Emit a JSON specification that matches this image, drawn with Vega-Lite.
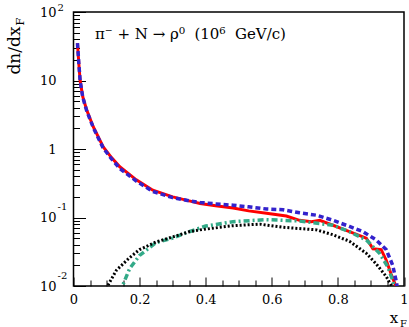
{
  "$schema": "https://vega.github.io/schema/vega-lite/v6.json",
  "width": 330.5,
  "height": 274,
  "autosize": {"type": "none"},
  "padding": {"left": 73.5, "top": 12, "right": 5, "bottom": 41},
  "background": "white",
  "config": {
    "view": {"stroke": "black", "strokeWidth": 1.5},
    "font": "DejaVu Serif",
    "axis": {"grid": false, "domain": false, "tickColor": "black", "tickWidth": 1, "labelColor": "black", "titleColor": "black", "labelFont": "DejaVu Serif", "titleFont": "DejaVu Serif", "titleFontWeight": "normal"}
  },
  "datasets": {
    "curves": [
      {"s": "red", "x": 0.012, "y": 35}, {"s": "red", "x": 0.016, "y": 18}, {"s": "red", "x": 0.02, "y": 10}, {"s": "red", "x": 0.028, "y": 5.8}, {"s": "red", "x": 0.04, "y": 3.7}, {"s": "red", "x": 0.06, "y": 2.1}, {"s": "red", "x": 0.09, "y": 1.07}, {"s": "red", "x": 0.115, "y": 0.75}, {"s": "red", "x": 0.14, "y": 0.55}, {"s": "red", "x": 0.19, "y": 0.355}, {"s": "red", "x": 0.24, "y": 0.25}, {"s": "red", "x": 0.3, "y": 0.2}, {"s": "red", "x": 0.35, "y": 0.175}, {"s": "red", "x": 0.383, "y": 0.16}, {"s": "red", "x": 0.43, "y": 0.148}, {"s": "red", "x": 0.483, "y": 0.138}, {"s": "red", "x": 0.53, "y": 0.125}, {"s": "red", "x": 0.584, "y": 0.115}, {"s": "red", "x": 0.644, "y": 0.105}, {"s": "red", "x": 0.684, "y": 0.091}, {"s": "red", "x": 0.72, "y": 0.087}, {"s": "red", "x": 0.745, "y": 0.091}, {"s": "red", "x": 0.785, "y": 0.077}, {"s": "red", "x": 0.835, "y": 0.062}, {"s": "red", "x": 0.886, "y": 0.05}, {"s": "red", "x": 0.906, "y": 0.035}, {"s": "red", "x": 0.931, "y": 0.034}, {"s": "red", "x": 0.946, "y": 0.024}, {"s": "red", "x": 0.961, "y": 0.015}, {"s": "red", "x": 0.976, "y": 0.0098}, {"s": "red", "x": 0.985, "y": 0.006},
      {"s": "blue", "x": 0.012, "y": 35}, {"s": "blue", "x": 0.016, "y": 18}, {"s": "blue", "x": 0.02, "y": 10}, {"s": "blue", "x": 0.028, "y": 5.7}, {"s": "blue", "x": 0.04, "y": 3.6}, {"s": "blue", "x": 0.06, "y": 2.05}, {"s": "blue", "x": 0.09, "y": 1.03}, {"s": "blue", "x": 0.115, "y": 0.72}, {"s": "blue", "x": 0.14, "y": 0.52}, {"s": "blue", "x": 0.19, "y": 0.34}, {"s": "blue", "x": 0.24, "y": 0.24}, {"s": "blue", "x": 0.3, "y": 0.195}, {"s": "blue", "x": 0.35, "y": 0.175}, {"s": "blue", "x": 0.383, "y": 0.166}, {"s": "blue", "x": 0.43, "y": 0.158}, {"s": "blue", "x": 0.483, "y": 0.151}, {"s": "blue", "x": 0.53, "y": 0.143}, {"s": "blue", "x": 0.584, "y": 0.133}, {"s": "blue", "x": 0.634, "y": 0.13}, {"s": "blue", "x": 0.684, "y": 0.117}, {"s": "blue", "x": 0.735, "y": 0.108}, {"s": "blue", "x": 0.785, "y": 0.091}, {"s": "blue", "x": 0.835, "y": 0.074}, {"s": "blue", "x": 0.876, "y": 0.062}, {"s": "blue", "x": 0.916, "y": 0.047}, {"s": "blue", "x": 0.946, "y": 0.034}, {"s": "blue", "x": 0.966, "y": 0.02}, {"s": "blue", "x": 0.976, "y": 0.012}, {"s": "blue", "x": 0.985, "y": 0.007},
      {"s": "green", "x": 0.14, "y": 0.008}, {"s": "green", "x": 0.148, "y": 0.01}, {"s": "green", "x": 0.17, "y": 0.018}, {"s": "green", "x": 0.2, "y": 0.028}, {"s": "green", "x": 0.25, "y": 0.043}, {"s": "green", "x": 0.3, "y": 0.05}, {"s": "green", "x": 0.35, "y": 0.062}, {"s": "green", "x": 0.4, "y": 0.075}, {"s": "green", "x": 0.483, "y": 0.087}, {"s": "green", "x": 0.584, "y": 0.093}, {"s": "green", "x": 0.684, "y": 0.089}, {"s": "green", "x": 0.785, "y": 0.077}, {"s": "green", "x": 0.835, "y": 0.062}, {"s": "green", "x": 0.886, "y": 0.047}, {"s": "green", "x": 0.926, "y": 0.03}, {"s": "green", "x": 0.951, "y": 0.019}, {"s": "green", "x": 0.966, "y": 0.012}, {"s": "green", "x": 0.98, "y": 0.007},
      {"s": "black", "x": 0.095, "y": 0.008}, {"s": "black", "x": 0.103, "y": 0.01}, {"s": "black", "x": 0.13, "y": 0.017}, {"s": "black", "x": 0.17, "y": 0.026}, {"s": "black", "x": 0.2, "y": 0.034}, {"s": "black", "x": 0.25, "y": 0.044}, {"s": "black", "x": 0.3, "y": 0.052}, {"s": "black", "x": 0.35, "y": 0.062}, {"s": "black", "x": 0.383, "y": 0.066}, {"s": "black", "x": 0.483, "y": 0.076}, {"s": "black", "x": 0.564, "y": 0.08}, {"s": "black", "x": 0.634, "y": 0.072}, {"s": "black", "x": 0.735, "y": 0.066}, {"s": "black", "x": 0.785, "y": 0.056}, {"s": "black", "x": 0.835, "y": 0.045}, {"s": "black", "x": 0.886, "y": 0.03}, {"s": "black", "x": 0.916, "y": 0.021}, {"s": "black", "x": 0.946, "y": 0.0138}, {"s": "black", "x": 0.961, "y": 0.0103}, {"s": "black", "x": 0.97, "y": 0.008}
    ],
    "annot": [{"x": 0.065, "y": 40.4, "label": "π⁻ + N → ρ⁰\u00a0\u00a0(10⁶\u00a0\u00a0GeV/c)"}],
    "expTop": [{"x": 0, "y": 100, "e": "2"}],
    "expLow": [{"x": 0, "y": 0.1, "e": "-1"}, {"x": 0, "y": 0.01, "e": "-2"}]
  },
  "layer": [
    {
      "data": {"name": "curves"},
      "transform": [{"filter": "datum.s == 'red'"}],
      "mark": {"type": "line", "color": "#ff0000", "strokeWidth": 3, "clip": true},
      "encoding": {
        "x": {"field": "x", "type": "quantitative", "scale": {"domain": [0, 1], "nice": false, "zero": false},
          "axis": {"orient": "bottom", "values": [0, 0.2, 0.4, 0.6, 0.8, 1], "format": "~g", "tickSize": -9, "labelFontSize": 13, "labelPadding": 16, "labelFlush": false, "labelOverlap": false, "title": "x", "titleFontSize": 15, "titleX": 320, "titleY": 36, "titleAlign": "center", "titleBaseline": "alphabetic"}},
        "y": {"field": "y", "type": "quantitative", "scale": {"type": "log", "domain": [0.01, 100], "nice": false},
          "axis": {"orient": "left", "values": [0.01, 0.1, 1, 10, 100], "labelExpr": "datum.value == 1 ? '1' : (datum.value == 10 ? '10' : '10\u00a0')", "tickSize": -12, "labelFontSize": 13, "labelPadding": 29.5, "labelBaseline": "middle", "labelFlush": false, "labelOverlap": false, "title": "dn/dx", "titleFontSize": 17, "titleAngle": 270, "titleX": -54, "titleY": 38, "titleAlign": "center", "titleBaseline": "alphabetic"}}
      }
    },
    {
      "data": {"name": "curves"},
      "transform": [{"filter": "datum.s == 'green'"}],
      "mark": {"type": "line", "color": "#33aa88", "strokeWidth": 3.5, "strokeDash": [6, 3, 2, 3], "clip": true},
      "encoding": {
        "x": {"field": "x", "type": "quantitative", "scale": {"domain": [0, 1], "nice": false, "zero": false},
          "axis": {"orient": "bottom", "values": [0.05, 0.1, 0.15, 0.25, 0.3, 0.35, 0.45, 0.5, 0.55, 0.65, 0.7, 0.75, 0.85, 0.9, 0.95], "tickSize": -6, "labels": false, "title": "F", "titleFontSize": 10, "titleX": 326, "titleY": 40, "titleAlign": "left", "titleBaseline": "alphabetic"}},
        "y": {"field": "y", "type": "quantitative", "scale": {"type": "log", "domain": [0.01, 100], "nice": false},
          "axis": {"orient": "left", "values": [0.02, 0.03, 0.04, 0.05, 0.06, 0.07, 0.08, 0.09, 0.2, 0.3, 0.4, 0.5, 0.6, 0.7, 0.8, 0.9, 2, 3, 4, 5, 6, 7, 8, 9, 20, 30, 40, 50, 60, 70, 80, 90], "tickSize": -6, "labels": false, "title": "F", "titleFontSize": 11, "titleAngle": 270, "titleX": -50, "titleY": 13, "titleAlign": "left", "titleBaseline": "alphabetic"}}
      }
    },
    {
      "data": {"name": "curves"},
      "transform": [{"filter": "datum.s == 'black'"}],
      "mark": {"type": "line", "color": "#000000", "strokeWidth": 3, "strokeDash": [2, 2], "clip": true},
      "encoding": {
        "x": {"field": "x", "type": "quantitative", "axis": null},
        "y": {"field": "y", "type": "quantitative", "axis": null}
      }
    },
    {
      "data": {"name": "curves"},
      "transform": [{"filter": "datum.s == 'blue'"}],
      "mark": {"type": "line", "color": "#3322cc", "strokeWidth": 3.5, "strokeDash": [5, 3], "clip": true},
      "encoding": {
        "x": {"field": "x", "type": "quantitative", "axis": null},
        "y": {"field": "y", "type": "quantitative", "axis": null}
      }
    },
    {
      "data": {"name": "annot"},
      "mark": {"type": "text", "align": "left", "baseline": "alphabetic", "fontSize": 15, "font": "DejaVu Serif", "color": "black"},
      "encoding": {
        "x": {"field": "x", "type": "quantitative", "axis": null},
        "y": {"field": "y", "type": "quantitative", "axis": null},
        "text": {"field": "label"}
      }
    },
    {
      "data": {"name": "expTop"},
      "mark": {"type": "text", "align": "left", "baseline": "alphabetic", "fontSize": 10, "font": "DejaVu Serif", "color": "black", "dx": -16, "dy": -1},
      "encoding": {
        "x": {"field": "x", "type": "quantitative", "axis": null},
        "y": {"field": "y", "type": "quantitative", "axis": null},
        "text": {"field": "e"}
      }
    },
    {
      "data": {"name": "expLow"},
      "mark": {"type": "text", "align": "left", "baseline": "alphabetic", "fontSize": 10, "font": "DejaVu Serif", "color": "black", "dx": -16, "dy": -7.5},
      "encoding": {
        "x": {"field": "x", "type": "quantitative", "axis": null},
        "y": {"field": "y", "type": "quantitative", "axis": null},
        "text": {"field": "e"}
      }
    }
  ],
  "resolve": {"axis": {"x": "independent", "y": "independent"}}
}
